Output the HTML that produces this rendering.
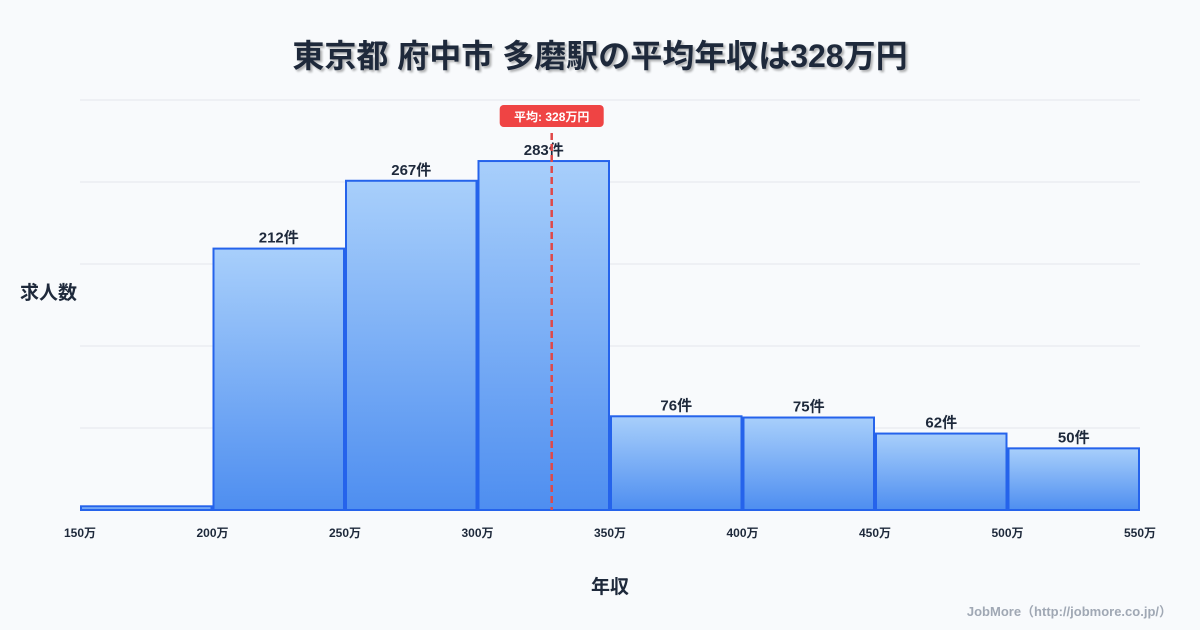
<!DOCTYPE html>
<html><head><meta charset="utf-8"><style>
body{margin:0;background:#f8fafc;}
svg{display:block;font-family:"Liberation Sans","Noto Sans CJK JP",sans-serif;}
</style></head><body>
<svg id="c" width="1200" height="630">
<defs><linearGradient id="g" x1="0" y1="0" x2="0" y2="1"><stop offset="0" stop-color="#a8cffb"/><stop offset="1" stop-color="#4e8ef0"/></linearGradient></defs>
<text x="600" y="67" text-anchor="middle" font-size="32" font-weight="bold" fill="#1e293b" style="text-shadow:2px 2px 2px rgba(0,0,0,0.3)">東京都 府中市 多磨駅の平均年収は328万円</text>
<text x="20" y="299" font-size="19" font-weight="bold" fill="#1e293b">求人数</text>
<text x="610" y="593" text-anchor="middle" font-size="19" font-weight="bold" fill="#1e293b">年収</text>
<text x="1172" y="616" text-anchor="end" font-size="13" font-weight="bold" fill="#a0a8b4">JobMore（http://jobmore.co.jp/）</text>
<g id="grid"></g><g id="bars"></g><g id="labels"></g><g id="mean"></g>
</svg>
<script>
const edges=[150,200,250,300,350,400,450,500,550];
const counts=[3,212,267,283,76,75,62,50];
const meanVal=328;
const yMax=332.5;
const gridTicks=[0,66.5,133,199.5,266,332.5];
const NS="http://www.w3.org/2000/svg";
const X0=80,X1=1140,Y0=510,Y1=100;
const xs=v=>X0+(v-150)/400*(X1-X0);
const ys=v=>Y0-v/yMax*(Y0-Y1);
function mk(t,a,p){const e=document.createElementNS(NS,t);for(const k in a)e.setAttribute(k,a[k]);p.appendChild(e);return e;}
const grid=document.getElementById('grid'),bars=document.getElementById('bars'),labels=document.getElementById('labels'),mean=document.getElementById('mean');
gridTicks.forEach(t=>{const l=mk('line',{x1:X0,x2:X1,y1:ys(t),y2:ys(t),stroke:'#e5e7eb','stroke-width':1},grid);

});
counts.forEach((c,i)=>{const x=xs(edges[i])+1,w=xs(edges[i+1])-xs(edges[i])-2;
const r=mk('rect',{x:x,y:ys(c),width:w,height:Y0-ys(c),fill:'url(#g)',stroke:'#2563eb','stroke-width':2},bars);


if(c>10){const t=mk('text',{x:x+w/2,y:ys(c)-6,'text-anchor':'middle','font-size':15,'font-weight':'bold',fill:'#1e293b'},labels);t.textContent=c+'件';

}});
edges.forEach(e=>{const t=mk('text',{x:xs(e),y:537,'text-anchor':'middle','font-size':12,'font-weight':'bold',fill:'#1e293b'},labels);t.textContent=e+'万';

});
const mx=xs(meanVal);
const ml=mk('line',{x1:mx,x2:mx,y1:133,y2:Y0,stroke:'#e04848','stroke-width':2.5,'stroke-dasharray':'7,4'},mean);


const mb=mk('rect',{x:mx-52,y:105,width:104,height:22,rx:4,fill:'#ef4444'},mean);


const mt=mk('text',{x:mx,y:121,'text-anchor':'middle','font-size':12,'font-weight':'bold',fill:'#fff'},mean);mt.textContent='平均: '+meanVal+'万円';


</script>
</body></html>
